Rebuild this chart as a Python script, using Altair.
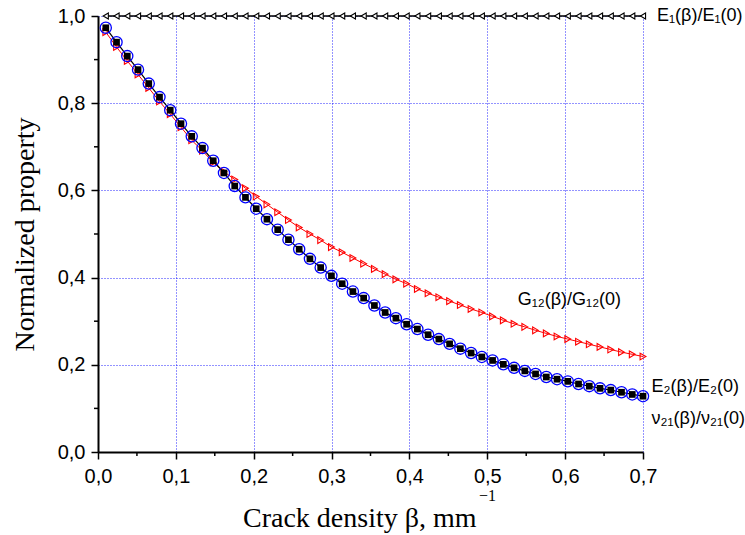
import altair as alt
import pandas as pd

# ---------------- data ----------------
beta = [0.0100, 0.0238, 0.0376, 0.0514, 0.0652, 0.0790, 0.0928, 0.1066, 0.1204, 0.1342,
        0.1480, 0.1618, 0.1756, 0.1894, 0.2032, 0.2170, 0.2308, 0.2446, 0.2584, 0.2722,
        0.2860, 0.2998, 0.3136, 0.3274, 0.3412, 0.3550, 0.3688, 0.3826, 0.3964, 0.4102,
        0.4240, 0.4378, 0.4516, 0.4654, 0.4792, 0.4930, 0.5068, 0.5206, 0.5344, 0.5482,
        0.5620, 0.5758, 0.5896, 0.6034, 0.6172, 0.6310, 0.6448, 0.6586, 0.6724, 0.6862,
        0.7000]

e1_ratio = [1.0, 1.0, 1.0, 1.0, 1.0, 1.0, 1.0, 1.0, 1.0, 1.0,
            1.0, 1.0, 1.0, 1.0, 1.0, 1.0, 1.0, 1.0, 1.0, 1.0,
            1.0, 1.0, 1.0, 1.0, 1.0, 1.0, 1.0, 1.0, 1.0, 1.0,
            1.0, 1.0, 1.0, 1.0, 1.0, 1.0, 1.0, 1.0, 1.0, 1.0,
            1.0, 1.0, 1.0, 1.0, 1.0, 1.0, 1.0, 1.0, 1.0, 1.0,
            1.0]

e2_ratio = [0.973, 0.940, 0.908, 0.877, 0.845, 0.814, 0.784, 0.753, 0.724, 0.697,
            0.668, 0.640, 0.610, 0.584, 0.558, 0.534, 0.510, 0.487, 0.465, 0.443,
            0.423, 0.404, 0.386, 0.368, 0.353, 0.336, 0.320, 0.307, 0.293, 0.282,
            0.269, 0.259, 0.248, 0.237, 0.227, 0.218, 0.210, 0.201, 0.193, 0.186,
            0.179, 0.172, 0.167, 0.162, 0.156, 0.151, 0.146, 0.142, 0.137, 0.132,
            0.128]

nu21_ratio = [0.973, 0.940, 0.908, 0.877, 0.845, 0.814, 0.784, 0.753, 0.724, 0.697,
              0.668, 0.640, 0.610, 0.584, 0.558, 0.534, 0.510, 0.487, 0.465, 0.443,
              0.423, 0.404, 0.386, 0.368, 0.353, 0.336, 0.320, 0.307, 0.293, 0.282,
              0.269, 0.259, 0.248, 0.237, 0.227, 0.218, 0.210, 0.201, 0.193, 0.186,
              0.179, 0.172, 0.167, 0.162, 0.156, 0.151, 0.146, 0.142, 0.137, 0.132,
              0.128]

g12_ratio = [0.963, 0.929, 0.897, 0.866, 0.835, 0.804, 0.775, 0.745, 0.715, 0.691,
             0.664, 0.643, 0.625, 0.605, 0.586, 0.568, 0.550, 0.532, 0.515, 0.500,
             0.486, 0.470, 0.458, 0.445, 0.432, 0.420, 0.408, 0.396, 0.386, 0.374,
             0.364, 0.355, 0.346, 0.337, 0.328, 0.320, 0.311, 0.302, 0.294, 0.287,
             0.279, 0.272, 0.265, 0.259, 0.253, 0.247, 0.241, 0.235, 0.229, 0.224,
             0.219]

x_ticks = [0.0, 0.1, 0.2, 0.3, 0.4, 0.5, 0.6, 0.7]
y_ticks = [0.0, 0.2, 0.4, 0.6, 0.8, 1.0]
x_minor = [0.05, 0.15, 0.25, 0.35, 0.45, 0.55, 0.65]
y_minor = [0.1, 0.3, 0.5, 0.7, 0.9]

series_labels = ["E₁(β)/E₁(0)", "G₁₂(β)/G₁₂(0)", "E₂(β)/E₂(0)", "ν₂₁(β)/ν₂₁(0)"]

# ---------------- tables ----------------
df_e1 = pd.DataFrame({"beta": beta, "value": e1_ratio})
df_e2 = pd.DataFrame({"beta": beta, "value": e2_ratio})
df_nu = pd.DataFrame({"beta": beta, "value": nu21_ratio})
df_g12 = pd.DataFrame({"beta": beta, "value": g12_ratio})
df_xminor = pd.DataFrame({"beta": x_minor})
df_yminor = pd.DataFrame({"value": y_minor})

W, H = 545, 436
SANS = "Liberation Sans"
SERIF = "Liberation Serif"
GRID_BLUE = "#0000ff"

xscale = alt.Scale(domain=[0, 0.7], nice=False, zero=False)
yscale = alt.Scale(domain=[0, 1.0], nice=False, zero=False)

x_axis = alt.Axis(
    values=x_ticks,
    labelExpr="replace(format(datum.value, '.1f'), '.', ',')",
    title="Crack density β, mm",
    titleFont=SERIF, titleFontSize=28, titleFontWeight="normal", titleColor="black",
    titleAlign="right", titleX=378, titleY=74, titleBaseline="alphabetic",
    labelFont=SANS, labelFontSize=20, labelColor="black", labelPadding=7,
    tickSize=7, tickWidth=1.5, tickColor="black",
    domainColor="black", domainWidth=2,
    grid=True, gridColor=GRID_BLUE, gridDash=[1, 2], gridWidth=1, gridOpacity=0.85,
    labelFlush=False, labelOverlap=False,
)
y_axis = alt.Axis(
    values=y_ticks,
    labelExpr="replace(format(datum.value, '.1f'), '.', ',')",
    title="Normalized property",
    titleFont=SERIF, titleFontSize=28, titleFontWeight="normal", titleColor="black",
    titleAngle=270, titleX=-73, titleY=H / 2, titleBaseline="middle", titleAlign="center",
    labelFont=SANS, labelFontSize=20, labelColor="black", labelPadding=6,
    tickSize=7, tickWidth=1.5, tickColor="black",
    domainColor="black", domainWidth=2,
    grid=True, gridColor=GRID_BLUE, gridDash=[1, 2], gridWidth=1, gridOpacity=0.85,
    labelFlush=False, labelOverlap=False,
)

X = alt.X("beta:Q", scale=xscale, axis=x_axis)
Y = alt.Y("value:Q", scale=yscale, axis=y_axis)

red_line = alt.Chart(df_g12).mark_line(color="#ff0000", strokeWidth=1).encode(x=X, y=Y)
red_pts = alt.Chart(df_g12).mark_point(
    shape="triangle-right", filled=False, color="#ff0000", size=45, strokeWidth=1.1, opacity=1
).encode(x=X, y=Y)

black_line = alt.Chart(df_e2).mark_line(color="black", strokeWidth=1.2).encode(x=X, y=Y)
blue_circ = alt.Chart(df_nu).mark_point(
    shape="circle", filled=False, color="#0000ff", size=125, strokeWidth=1.3, opacity=1
).encode(x=X, y=Y)
black_sq = alt.Chart(df_e2).mark_point(
    shape="square", filled=True, color="black", size=45, opacity=1
).encode(x=X, y=Y)

e1_line = alt.Chart(df_e1).mark_line(color="black", strokeWidth=1.5).encode(x=X, y=Y)
e1_pts = alt.Chart(df_e1).mark_point(
    shape="triangle-left", filled=True, fill="white", stroke="black", size=35, strokeWidth=1.1, opacity=1
).encode(x=X, y=Y)

x_minor_ticks = alt.Chart(df_xminor).mark_rule(color="black", strokeWidth=1.5).encode(
    x=X, y=alt.value(H), y2=alt.value(H + 4)
)
y_minor_ticks = alt.Chart(df_yminor).mark_rule(color="black", strokeWidth=1.5).encode(
    y=Y, x=alt.value(0), x2=alt.value(-4)
)

def label(text, bx, vy):
    return alt.Chart(pd.DataFrame({"beta": [bx], "value": [vy], "txt": [text]})).mark_text(
        align="left", baseline="middle", font=SANS, fontSize=18, color="black"
    ).encode(x=X, y=Y, text="txt:N")

lab_e1 = label(series_labels[0], 0.718, 1.0)
lab_g12 = label(series_labels[1], 0.539, 0.348)
lab_e2 = label(series_labels[2], 0.711, 0.148)
lab_nu = label(series_labels[3], 0.711, 0.075)

sup = alt.Chart(pd.DataFrame({"txt": ["−1"]})).mark_text(
    align="left", baseline="alphabetic", font=SERIF, fontSize=16, color="black"
).encode(x=alt.value(381), y=alt.value(485), text="txt:N")

chart = alt.layer(
    red_line, red_pts, black_line, blue_circ, black_sq, e1_line, e1_pts,
    x_minor_ticks, y_minor_ticks, lab_e1, lab_g12, lab_e2, lab_nu, sup,
).properties(
    width=W, height=H,
    padding={"left": 98, "top": 16, "right": 102, "bottom": 83},
    autosize=alt.AutoSizeParams(type="none"),
    background="white",
).configure_view(stroke=None)

chart.save("out.html", embed_options={"renderer": "svg", "actions": False})
